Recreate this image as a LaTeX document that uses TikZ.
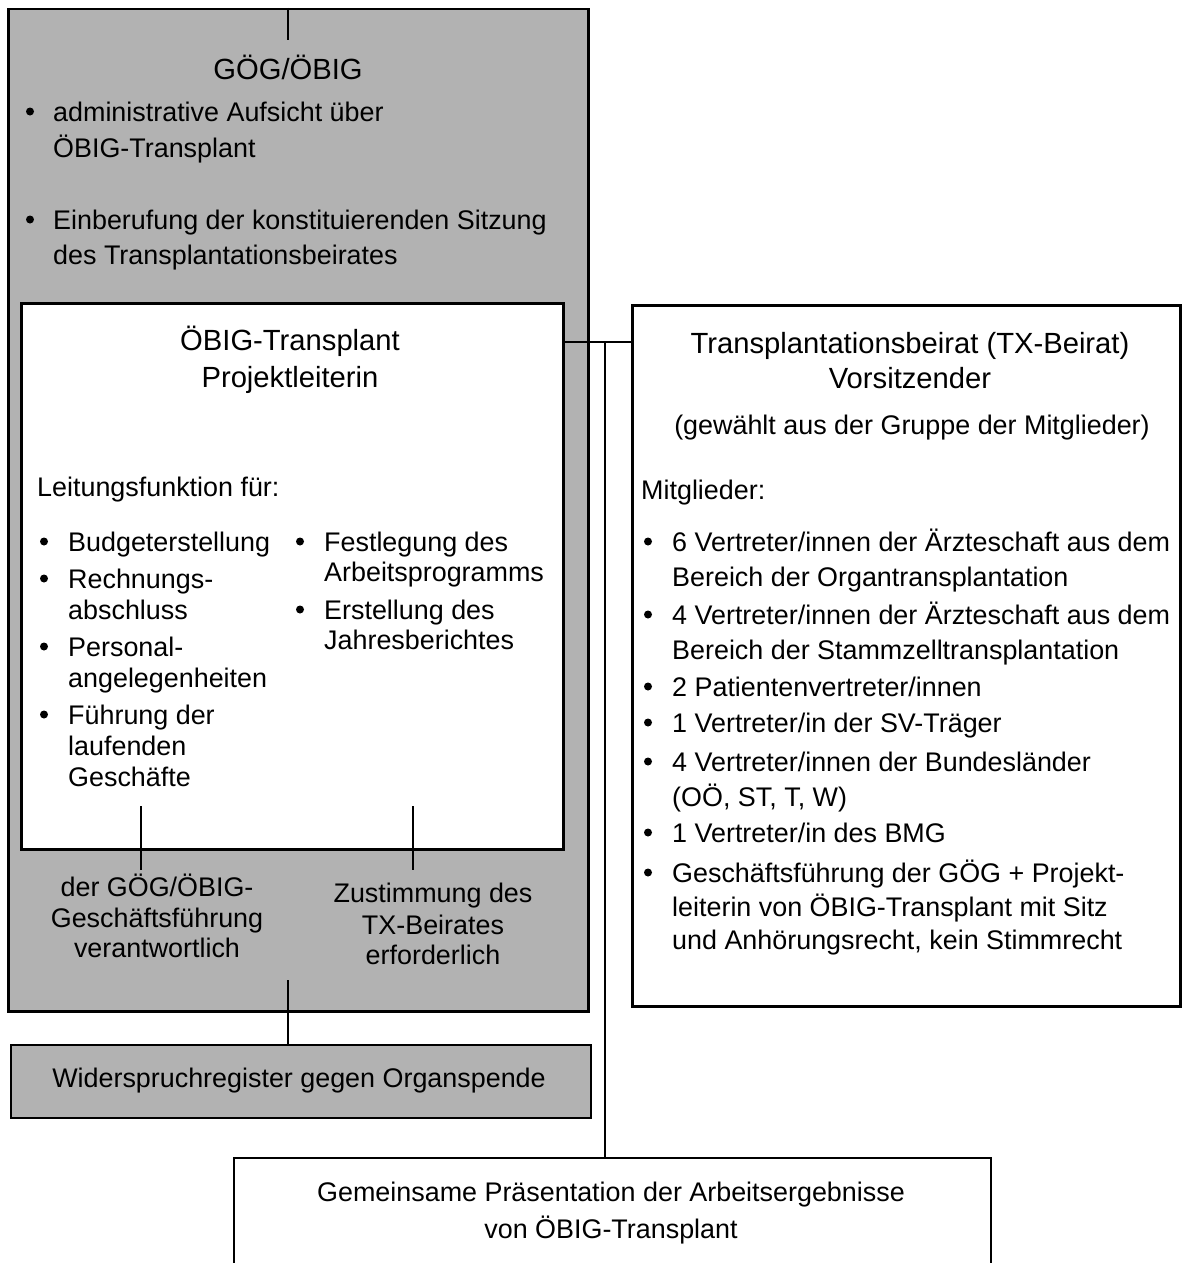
\documentclass[tikz,border=0pt]{standalone}
\usepackage{fontspec}
\setmainfont{Liberation Sans}
\definecolor{boxgray}{RGB}{178,178,178}
\tikzset{
  body/.style={font=\fontsize{26.9}{31}\selectfont, inner sep=0pt, anchor=base west},
  bodyc/.style={font=\fontsize{26.9}{31}\selectfont, inner sep=0pt, anchor=base},
  head/.style={font=\fontsize{29.2}{35}\selectfont, inner sep=0pt, anchor=base},
  bul/.style={circle, fill=black, inner sep=0pt, minimum size=8pt, yshift=9.5pt},
  graybox/.style={fill=boxgray, draw=black, line width=2.5pt, inner sep=0pt, anchor=north west},
  whitebox/.style={fill=white, draw=black, line width=2.5pt, inner sep=0pt, anchor=north west},
  conn/.style={draw=black, line width=1.4pt},
  thickconn/.style={draw=black, line width=2.4pt},
}
\begin{document}
\begin{tikzpicture}[x=1pt,y=-1pt]
\useasboundingbox (0,0) rectangle (1181,1263);
% ---------- boxes ----------
\node[graybox, minimum width=580pt, minimum height=1002pt] (gog) at (7,8) {};
\node[whitebox, minimum width=542pt, minimum height=546pt] (obig) at (20,302) {};
\node[whitebox, minimum width=548pt, minimum height=701pt] (tx) at (631,304) {};
\node[graybox, line width=2pt, minimum width=580pt, minimum height=73pt] (wid) at (10,1044) {};
\node[whitebox, line width=2.2pt, minimum width=757pt, minimum height=160pt] (gem) at (233,1157) {};
% ---------- GÖG/ÖBIG ----------
\node[head] (gogtitle) at (288,80) {GÖG/ÖBIG};
\node[bul] (gb1) at (30,121) {};
\node[body] (g1a) at (53,121) {administrative Aufsicht über};
\node[body] (g1b) at (53,157) {ÖBIG-Transplant};
\node[bul] (gb2) at (30,229) {};
\node[body] (g2a) at (53,229) {Einberufung der konstituierenden Sitzung};
\node[body] (g2b) at (53,264) {des Transplantationsbeirates};
% ---------- ÖBIG-Transplant ----------
\node[head] (ot1) at (290,350) {ÖBIG-Transplant};
\node[head] (ot2) at (290,387) {Projektleiterin};
\node[body] (lf) at (37,496) {Leitungsfunktion für:};
\node[bul] (lb1) at (44,551) {};
\node[body] (l1) at (68,551) {Budgeterstellung};
\node[bul] (lb2) at (44,588) {};
\node[body] (l2a) at (68,588) {Rechnungs-};
\node[body] (l2b) at (68,619) {abschluss};
\node[bul] (lb3) at (44,656) {};
\node[body] (l3a) at (68,656) {Personal-};
\node[body] (l3b) at (68,687) {angelegenheiten};
\node[bul] (lb4) at (44,724) {};
\node[body] (l4a) at (68,724) {Führung der};
\node[body] (l4b) at (68,755) {laufenden};
\node[body] (l4c) at (68,786) {Geschäfte};
\node[bul] (rb1) at (300,551) {};
\node[body] (r1a) at (324,551) {Festlegung des};
\node[body] (r1b) at (324,581) {Arbeitsprogramms};
\node[bul] (rb2) at (300,619) {};
\node[body] (r2a) at (324,619) {Erstellung des};
\node[body] (r2b) at (324,649) {Jahresberichtes};
% ---------- labels in gray ----------
\node[bodyc] (ga1) at (157,896) {der GÖG/ÖBIG-};
\node[bodyc] (ga2) at (157,927) {Geschäftsführung};
\node[bodyc] (ga3) at (157,957) {verantwortlich};
\node[bodyc] (za1) at (433,902) {Zustimmung des};
\node[bodyc] (za2) at (433,934) {TX-Beirates};
\node[bodyc] (za3) at (433,964) {erforderlich};
% ---------- TX-Beirat ----------
\node[head] (tx1) at (910,353) {Transplantationsbeirat (TX-Beirat)};
\node[head] (tx2) at (910,388) {Vorsitzender};
\node[bodyc] (tx3) at (912,434) {(gewählt aus der Gruppe der Mitglieder)};
\node[body] (mg) at (641,499) {Mitglieder:};
\node[bul] (mb1) at (648,551) {};
\node[body] (m1a) at (672,551) {6 Vertreter/innen der Ärzteschaft aus dem};
\node[body] (m1b) at (672,586) {Bereich der Organtransplantation};
\node[bul] (mb2) at (648,624) {};
\node[body] (m2a) at (672,624) {4 Vertreter/innen der Ärzteschaft aus dem};
\node[body] (m2b) at (672,659) {Bereich der Stammzelltransplantation};
\node[bul] (mb3) at (648,696) {};
\node[body] (m3) at (672,696) {2 Patientenvertreter/innen};
\node[bul] (mb4) at (648,732) {};
\node[body] (m4) at (672,732) {1 Vertreter/in der SV-Träger};
\node[bul] (mb5) at (648,771) {};
\node[body] (m5a) at (672,771) {4 Vertreter/innen der Bundesländer};
\node[body] (m5b) at (672,806) {(OÖ, ST, T, W)};
\node[bul] (mb6) at (648,842) {};
\node[body] (m6) at (672,842) {1 Vertreter/in des BMG};
\node[bul] (mb7) at (648,882) {};
\node[body] (m7a) at (672,882) {Geschäftsführung der GÖG + Projekt-};
\node[body] (m7b) at (672,916) {leiterin von ÖBIG-Transplant mit Sitz};
\node[body] (m7c) at (672,949) {und Anhörungsrecht, kein Stimmrecht};
% ---------- bottom boxes text ----------
\node[bodyc] (widt) at (299,1087) {Widerspruchregister gegen Organspende};
\node[bodyc] (gem1) at (611,1201) {Gemeinsame Präsentation der Arbeitsergebnisse};
\node[bodyc] (gem2) at (611,1238) {von ÖBIG-Transplant};
% ---------- connectors ----------
\coordinate (topend) at (288,40);
\coordinate (hj) at (605,342);
\coordinate (l1t) at (141,806);
\coordinate (l1b) at (141,870);
\coordinate (l2t) at (413,806);
\coordinate (l2b) at (413,870);
\coordinate (wt) at (288,980);
\draw[conn] (gog.north -| topend) -- (topend);
\draw[thickconn] (obig.east |- hj) -- (tx.west |- hj);
\draw[thickconn, line width=2pt] (hj) -- (gem.north -| hj);
\draw[conn] (l1t) -- (l1b);
\draw[conn] (l2t) -- (l2b);
\draw[conn] (wt) -- (wid.north -| wt);
\end{tikzpicture}
\end{document}
